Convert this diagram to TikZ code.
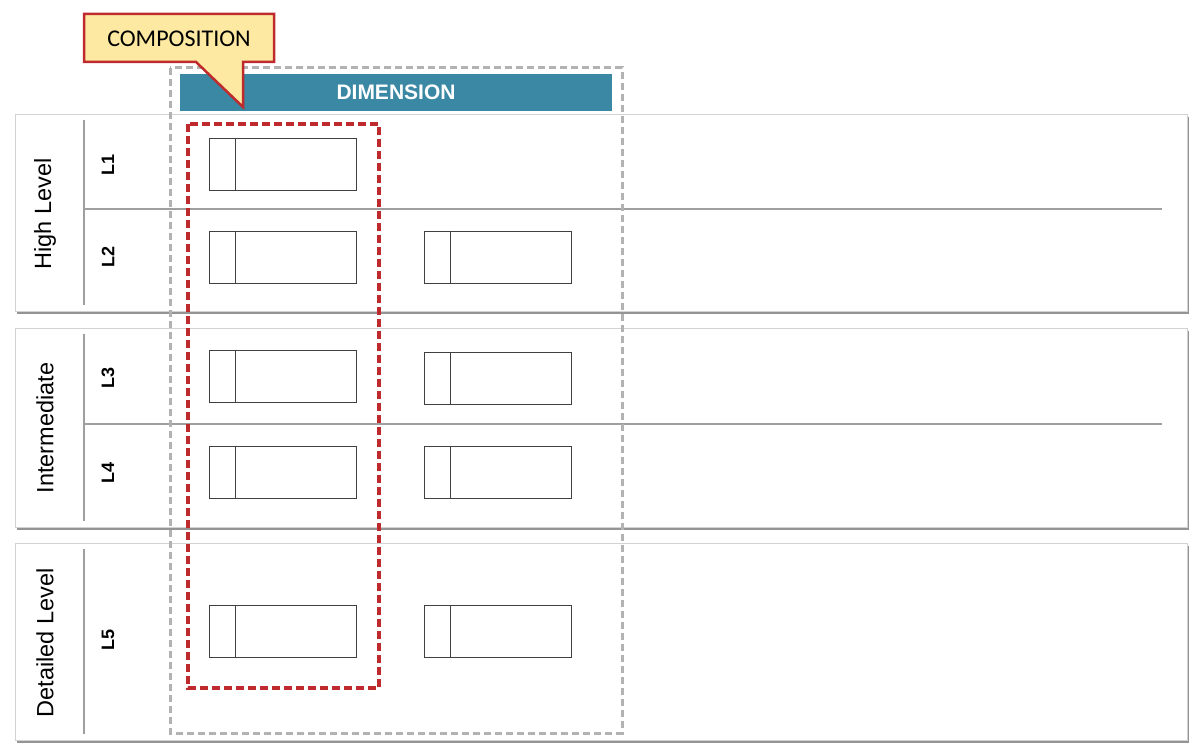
\documentclass[tikz,border=0pt]{standalone}
\usepackage{fontspec}
\setmainfont{Liberation Sans}
\newfontfamily\callfont{Carlito}
\usetikzlibrary{shadows}
\definecolor{dimteal}{HTML}{3B88A4}
\definecolor{compred}{HTML}{BF2A2C}
\definecolor{compyellow}{HTML}{FDE9A2}

\begin{document}
\begin{tikzpicture}[x=1pt, y=-1pt,
  band/.style={draw=gray!35, fill=white, line width=1pt,
    drop shadow={shadow xshift=1.5pt, shadow yshift=-2.5pt, fill=black!60, opacity=0.7}},
  divider/.style={draw=gray!75, line width=1.3pt},
  grouptext/.style={rotate=90, font=\fontsize{23.5}{28}\selectfont},
  leveltext/.style={rotate=90, font=\bfseries\fontsize{18}{21}\selectfont},
  cell/.style={draw=black!75, line width=0.9pt, minimum width=147pt, minimum height=52pt, inner sep=0pt},
  dimbox/.style={draw=gray!60, line width=3pt, dash pattern=on 7pt off 4pt},
  compbox/.style={draw=compred, line width=3.3pt, dash pattern=on 8pt off 4pt}]
\useasboundingbox (0,0) rectangle (1200,751);

% three bands
\draw[band] (15,115) rectangle (1187,312);
\draw[band] (15,329) rectangle (1187,527);
\draw[band] (15,543) rectangle (1187,740);

% inner rules
\draw[divider] (84,120) -- (84,305);
\draw[divider] (84,334) -- (84,521);
\draw[divider] (84,549) -- (84,734);
\draw[divider] (84,209) -- (1162,209);
\draw[divider] (84,424) -- (1162,424);

% group and level labels
\node[grouptext] (high) at (45,214) {High Level};
\node[grouptext] (inter) at (45,428) {Intermediate};
\node[grouptext] (detail) at (45,643) {Detailed Level};
\node[leveltext] (l1) at (108,165) {L1};
\node[leveltext] (l2) at (108,257) {L2};
\node[leveltext] (l3) at (108,378) {L3};
\node[leveltext] (l4) at (108,473) {L4};
\node[leveltext] (l5) at (108,640) {L5};

% dimension column
\draw[dimbox] (170,68) rectangle (622,733);
\node[fill=dimteal, text=white, font=\bfseries\fontsize{21}{24}\selectfont,
  minimum width=432pt, minimum height=37pt, inner sep=0pt] (dim) at (396,92.5) {DIMENSION};

% composition column
\draw[compbox] (188,124) rectangle (379,688);

% cells
\foreach \r/\yy in {1/164, 2/257, 3/376.5, 4/472.5, 5/631.5}{
  \node[cell] (a\r) at (282.5,\yy) {};
  \draw[black!75, line width=0.9pt] ([xshift=27pt]a\r.north west) -- ([xshift=27pt]a\r.south west);
}
\foreach \r/\yy in {2/257, 3/378, 4/472.5, 5/631.5}{
  \node[cell] (b\r) at (497.5,\yy) {};
  \draw[black!75, line width=0.9pt] ([xshift=27pt]b\r.north west) -- ([xshift=27pt]b\r.south west);
}

% callout
\draw[compred, fill=compyellow, line width=2.5pt, line join=miter]
  (84,14) -- (274,14) -- (274,62) -- (243,62) -- (243,107) -- (196,62) -- (84,62) -- cycle;
\node[font=\callfont\fontsize{24}{28}\selectfont] (comp) at (179,39) {COMPOSITION};

\end{tikzpicture}
\end{document}
